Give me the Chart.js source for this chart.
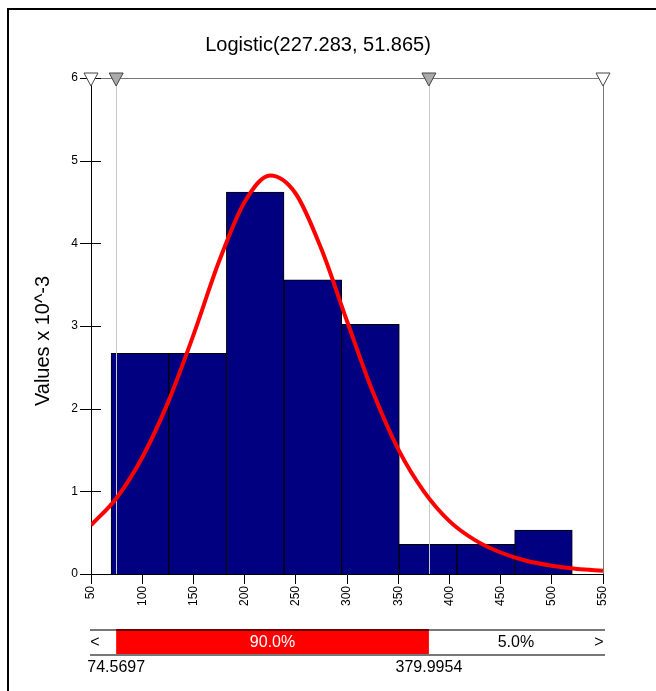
<!DOCTYPE html>
<html>
<head>
<meta charset="utf-8">
<script src="https://cdn.jsdelivr.net/npm/chart.js@4.4.0/dist/chart.umd.min.js"></script>
<style>
    body { margin: 0; background: #fff; }
    #wrap { width: 656px; height: 691px; }
</style>
</head>
<body>
<div id="wrap"><canvas id="fit-chart" width="656" height="691"></canvas></div>
<script>
// DATA
var binCenters = [97.75, 154.05, 210.35, 266.65, 322.95, 379.25, 435.55, 491.85];
var binHeights = [2.67, 2.67, 4.62, 3.56, 3.02, 0.36, 0.36, 0.53];
var curveX = [50, 75, 100, 125, 150, 175, 200, 225, 250, 275, 300, 325, 350, 375, 400, 425, 450, 475, 500, 525, 550];
var curveY = [0.59, 0.92, 1.41, 2.07, 2.89, 3.78, 4.50, 4.82, 4.60, 3.93, 3.06, 2.21, 1.51, 1.00, 0.64, 0.41, 0.26, 0.16, 0.10, 0.06, 0.04];
var xTicks = [50, 100, 150, 200, 250, 300, 350, 400, 450, 500, 550];
var yTicks = [0, 1, 2, 3, 4, 5, 6];
var fitTitle = "Logistic(227.283, 51.865)";
var yTitle = "Values x 10^-3";
var lowerBound = 74.5697;
var upperBound = 379.9954;
var midPct = "90.0%";
var rightPct = "5.0%";

var FONT = "'Liberation Sans', Arial, sans-serif";
Chart.defaults.font.family = FONT;
Chart.defaults.color = "#000";

function tri(ctx, x, fill) {
    ctx.beginPath();
    ctx.moveTo(x - 7, 73);
    ctx.lineTo(x + 7, 73);
    ctx.lineTo(x, 86);
    ctx.closePath();
    ctx.fillStyle = fill;
    ctx.fill();
    ctx.strokeStyle = "#444";
    ctx.lineWidth = 1;
    ctx.stroke();
}

// EXTRA DRAWING (frame, titles, markers, bottom band)
var decor = {
    id: "decor",
    beforeDraw: function (chart) {
        var ctx = chart.ctx;
        ctx.save();
        ctx.fillStyle = "#fff";
        ctx.fillRect(0, 0, chart.width, chart.height);
        ctx.fillStyle = "#000";
        ctx.fillRect(7, 8, 2, chart.height);
        ctx.fillRect(7, 8, chart.width, 2);

        ctx.font = "20px " + FONT;
        ctx.textAlign = "center";
        ctx.textBaseline = "middle";
        ctx.fillText(fitTitle, 318, 45);

        ctx.translate(43, 341);
        ctx.rotate(-Math.PI / 2);
        ctx.fillText(yTitle, 0, 0);
        ctx.restore();
    },
    beforeDatasetsDraw: function (chart) {
        var ctx = chart.ctx, a = chart.chartArea;
        ctx.save();
        ctx.strokeStyle = "#777";
        ctx.lineWidth = 1;
        ctx.beginPath();
        ctx.moveTo(a.left, a.top + 0.5);
        ctx.lineTo(a.right, a.top + 0.5);
        ctx.moveTo(a.right + 0.5, a.top);
        ctx.lineTo(a.right + 0.5, a.bottom);
        ctx.stroke();
        ctx.restore();
    },
    afterDatasetDraw: function (chart, args) {
        if (args.meta.type !== "bar") return;
        var ctx = chart.ctx, a = chart.chartArea, x = chart.scales.x;
        ctx.save();
        ctx.strokeStyle = "#c8c8c8";
        ctx.lineWidth = 1;
        [lowerBound, upperBound].forEach(function (v) {
            var px = Math.round(x.getPixelForValue(v)) + 0.5;
            ctx.beginPath();
            ctx.moveTo(px, a.top);
            ctx.lineTo(px, a.bottom);
            ctx.stroke();
        });
        ctx.restore();
    },
    afterDraw: function (chart) {
        var ctx = chart.ctx, a = chart.chartArea;
        var x = chart.scales.x, y = chart.scales.y;
        ctx.save();

        // y tick marks crossing the axis
        ctx.strokeStyle = "#000";
        ctx.lineWidth = 1;
        yTicks.forEach(function (v) {
            var py = Math.round(y.getPixelForValue(v)) + 0.5;
            ctx.beginPath();
            ctx.moveTo(a.left - 11, py);
            ctx.lineTo(a.left + 10, py);
            ctx.stroke();
        });

        // markers on top
        var xl = x.getPixelForValue(lowerBound);
        var xu = x.getPixelForValue(upperBound);
        tri(ctx, a.left, "#fff");
        tri(ctx, xl, "#aaa");
        tri(ctx, xu, "#aaa");
        tri(ctx, a.right, "#fff");

        // bottom band
        var top = 629, bot = 656;
        ctx.fillStyle = "#f00";
        ctx.fillRect(xl, top, xu - xl, bot - top);
        ctx.fillStyle = "#600";
        ctx.fillRect(xl, top, xu - xl, 2);
        ctx.fillStyle = "#777";
        ctx.fillRect(a.left - 1, top, xl - a.left + 1, 2);
        ctx.fillRect(xu, top, a.right - xu + 2, 2);
        ctx.fillRect(a.left - 1, bot - 2, a.right - a.left + 3, 2);

        ctx.font = "16px " + FONT;
        ctx.textAlign = "center";
        ctx.textBaseline = "middle";
        var my = (top + bot) / 2;
        ctx.fillStyle = "#fff";
        ctx.fillText(midPct, (xl + xu) / 2, my);
        ctx.fillStyle = "#000";
        ctx.fillText(rightPct, (xu + a.right) / 2, my);
        ctx.fillText("<", a.left + 4, my);
        ctx.fillText(">", a.right - 4, my);
        ctx.fillText(String(lowerBound), xl, 668);
        ctx.fillText(String(upperBound), xu, 668);
        ctx.restore();
    }
};

var ctx = document.getElementById("fit-chart");
var fitChart = new Chart(ctx, {
    data: {
        datasets: [
            {
                type: "line",
                data: curveX.map(function (v, i) { return { x: v, y: curveY[i] }; }),
                borderColor: "#ff0000",
                borderWidth: 4,
                pointRadius: 0,
                cubicInterpolationMode: "monotone",
                fill: false,
            },
            {
                type: "bar",
                data: binCenters.map(function (v, i) { return { x: v, y: binHeights[i] }; }),
                backgroundColor: "#000080",
                borderColor: "#000",
                borderWidth: 1,
                barThickness: "flex",
                barPercentage: 1,
                categoryPercentage: 1,
            },
        ],
    },
    options: {
        responsive: false,
        animation: false,
        devicePixelRatio: 1,
        layout: {
            padding: { left: 0, top: 78, right: 53, bottom: 0 },
        },
        plugins: {
            legend: { display: false },
            tooltip: { enabled: false },
        },
        scales: {
            x: {
                type: "linear",
                min: 50,
                max: 550,
                offset: false,
                afterBuildTicks: function (scale) {
                    scale.ticks = xTicks.map(function (v) { return { value: v }; });
                },
                afterFit: function (scale) {
                    scale.height = 117;
                },
                ticks: {
                    autoSkip: false,
                    minRotation: 90,
                    maxRotation: 90,
                    padding: 2,
                    font: { size: 12 },
                    color: "#000",
                },
                grid: {
                    offset: false,
                    drawOnChartArea: false,
                    drawTicks: true,
                    tickLength: 10,
                    color: "#000",
                },
                border: { color: "#000", width: 1 },
            },
            y: {
                min: 0,
                max: 6,
                afterBuildTicks: function (scale) {
                    scale.ticks = yTicks.map(function (v) { return { value: v }; });
                },
                afterFit: function (scale) {
                    scale.width = 91;
                },
                ticks: {
                    padding: 13,
                    font: { size: 12 },
                    color: "#000",
                },
                grid: { display: false, drawTicks: false },
                border: { color: "#000", width: 1 },
            },
        },
    },
    plugins: [decor],
});
</script>
</body>
</html>
